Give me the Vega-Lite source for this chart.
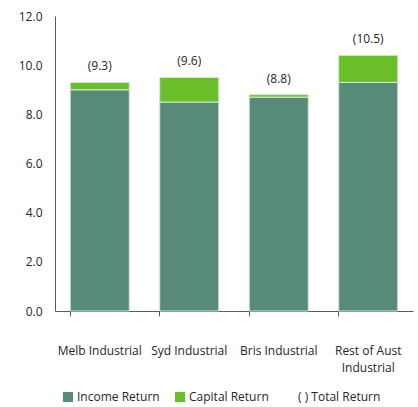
{
  "$schema": "https://vega.github.io/schema/vega-lite/v6.json",
  "width": 358,
  "height": 295,
  "autosize": "none",
  "padding": {"left": 55, "top": 16, "right": 5, "bottom": 96},
  "background": "white",
  "config": {
    "view": {"stroke": null},
    "font": "Open Sans",
    "text": {"font": "Open Sans"}
  },
  "data": {
    "values": [
      {"region": "Melb Industrial", "Income Return": 9.0, "Capital Return": 0.3, "total": 9.3},
      {"region": "Syd Industrial", "Income Return": 8.5, "Capital Return": 1.0, "total": 9.6},
      {"region": "Bris Industrial", "Income Return": 8.7, "Capital Return": 0.1, "total": 8.8},
      {"region": "Rest of Aust Industrial", "Income Return": 9.3, "Capital Return": 1.1, "total": 10.5}
    ]
  },
  "encoding": {
    "x": {
      "field": "region",
      "type": "nominal",
      "sort": null,
      "title": null,
      "scale": {"paddingInner": 0.34, "paddingOuter": 0.17},
      "axis": {
        "bandPosition": 0,
        "labelAngle": 0,
        "labelFontSize": 12,
        "labelColor": "#262626",
        "labelBaseline": "top",
        "labelPadding": 29,
        "labelLineHeight": 17,
        "tickSize": 5,
        "tickColor": "#595959",
        "domainColor": "#595959",
        "labelExpr": "datum.value == 'Rest of Aust Industrial' ? ['Rest of Aust', 'Industrial'] : datum.value"
      }
    }
  },
  "layer": [
    {
      "transform": [
        {"fold": ["Income Return", "Capital Return"], "as": ["key", "value"]}
      ],
      "mark": {"type": "bar", "stroke": "#d3ead3", "strokeWidth": 1},
      "encoding": {
        "y": {
          "field": "value",
          "type": "quantitative",
          "stack": "zero",
          "title": null,
          "scale": {"domain": [0, 12]},
          "axis": {
            "values": [0, 2, 4, 6, 8, 10, 12],
            "format": ".1f",
            "grid": false,
            "ticks": false,
            "labelPadding": 13,
            "labelFontSize": 12,
            "labelColor": "#262626",
            "domainColor": "#595959"
          }
        },
        "color": {
          "field": "key",
          "type": "nominal",
          "scale": {
            "domain": ["Income Return", "Capital Return", "( ) Total Return"],
            "range": ["#588a78", "#6abf2b", "transparent"]
          },
          "legend": {
            "title": null,
            "orient": "none",
            "direction": "horizontal",
            "legendX": 7,
            "legendY": 375,
            "symbolType": "square",
            "symbolSize": 100,
            "symbolStrokeWidth": 0,
            "labelFontSize": 12,
            "labelColor": "#262626",
            "labelOffset": 3,
            "columnPadding": 14
          }
        },
        "order": {"field": "key", "sort": "descending"}
      }
    },
    {
      "transform": [
        {"calculate": "datum['Income Return'] + datum['Capital Return']", "as": "top"},
        {"calculate": "'(' + format(datum.total, '.1f') + ')'", "as": "label"}
      ],
      "mark": {"type": "text", "dy": -16, "fontSize": 12, "color": "#262626"},
      "encoding": {
        "y": {"field": "top", "type": "quantitative"},
        "text": {"field": "label"}
      }
    }
  ]
}
